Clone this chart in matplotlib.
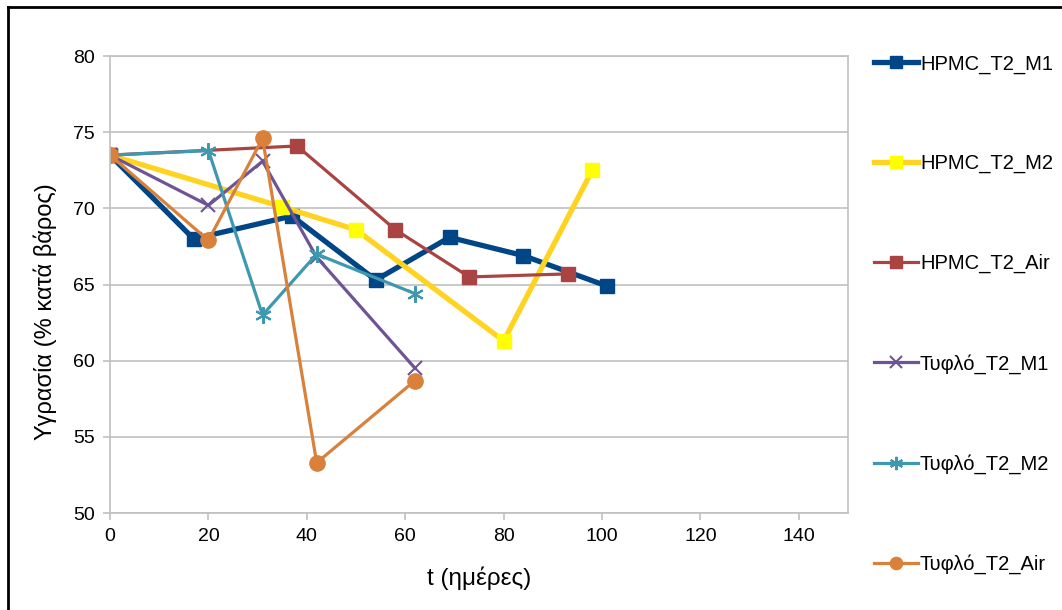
import matplotlib.pyplot as plt
from matplotlib.lines import Line2D

plt.rcParams['font.family'] = ['Liberation Sans', 'DejaVu Sans']

# moisture (% by weight) vs time (days)
hpmc_m1_t = [0, 17, 37, 54, 69, 84, 101]
hpmc_m1_y = [73.5, 68.0, 69.5, 65.3, 68.1, 66.9, 64.9]

hpmc_m2_t = [0, 35, 50, 80, 98]
hpmc_m2_y = [73.5, 70.1, 68.6, 61.3, 72.5]

hpmc_air_t = [0, 38, 58, 73, 93]
hpmc_air_y = [73.5, 74.1, 68.6, 65.5, 65.7]

blank_m1_t = [0, 20, 31, 42, 62]
blank_m1_y = [73.5, 70.2, 73.1, 66.8, 59.5]

blank_m2_t = [0, 20, 31, 42, 62]
blank_m2_y = [73.5, 73.8, 63.0, 67.0, 64.4]

blank_air_t = [0, 20, 31, 42, 62]
blank_air_y = [73.5, 67.9, 74.6, 53.3, 58.7]

labels = ['HPMC_T2_M1', 'HPMC_T2_M2', 'HPMC_T2_Air',
          'Τυφλό_T2_M1', 'Τυφλό_T2_M2', 'Τυφλό_T2_Air']

fig = plt.figure(figsize=(10.62, 6.10), dpi=100)
ax = fig.add_axes([0.1036, 0.159, 0.695, 0.749])

ax.plot(hpmc_m1_t, hpmc_m1_y, color='#004586', lw=3.8, marker='s', ms=10,
        label=labels[0])
ax.plot(hpmc_m2_t, hpmc_m2_y, color='#ffd320', lw=3.8, marker='s', ms=10,
        mfc='#ffff00', mec='#ffff00', label=labels[1])
ax.plot(hpmc_air_t, hpmc_air_y, color='#a94442', lw=2.3, marker='s', ms=10,
        label=labels[2])
ax.plot(blank_m1_t, blank_m1_y, color='#6f5495', lw=2.3, marker='x', ms=10,
        mew=1.5, label=labels[3])
ax.plot(blank_m2_t, blank_m2_y, color='#3e98b0', lw=2.3, marker=(6, 2, 0), ms=12,
        mew=1.5, label=labels[4])
ax.plot(blank_air_t, blank_air_y, color='#d9813a', lw=2.3, marker='o', ms=11,
        label=labels[5])

ax.set_xlim(0, 150)
ax.set_ylim(50, 80)
ax.set_xticks(range(0, 141, 20))
ax.set_yticks(range(50, 81, 5))
ax.yaxis.grid(True, color='#c0c0c0', lw=1.2)
ax.set_axisbelow(True)
for s in ax.spines.values():
    s.set_color('#c0c0c0')
    s.set_linewidth(1.2)
ax.tick_params(axis='both', labelsize=14, color='#c0c0c0', length=5,
               width=1.2, pad=6)
ax.set_xlabel('t (ημέρες)', fontsize=17.5, labelpad=15)
ax.set_ylabel('Υγρασία (% κατά βάρος)', fontsize=17)
ax.yaxis.set_label_coords(-0.072, 0.44)

handles, labs = ax.get_legend_handles_labels()
fig.legend(handles, labs, loc='upper left', bbox_to_anchor=(0.815, 0.924),
           frameon=False, fontsize=14.5, handlelength=2.2, handletextpad=0.1,
           labelspacing=4.0, markerscale=0.8, borderaxespad=0)

# outer frame (left and top edges visible)
fig.add_artist(Line2D([0.0075, 0.0075], [0, 0.989], color='black', lw=2,
                      transform=fig.transFigure))
fig.add_artist(Line2D([0.0075, 1.0], [0.989, 0.989], color='black', lw=2,
                      transform=fig.transFigure))

fig.savefig('out.png', dpi=100)
